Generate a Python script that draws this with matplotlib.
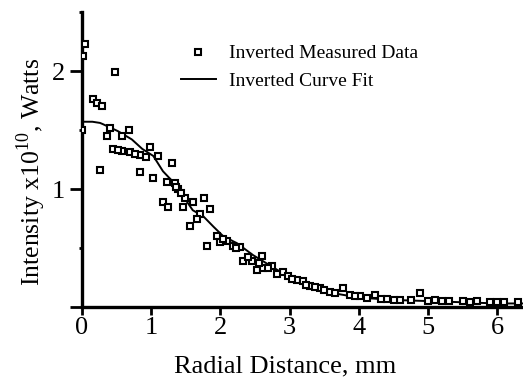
import matplotlib
matplotlib.use("Agg")
import matplotlib.pyplot as plt
import numpy as np
from matplotlib.ticker import MultipleLocator

plt.rcParams['font.family'] = ['Liberation Serif', 'DejaVu Serif']
plt.rcParams['mathtext.fontset'] = 'custom'
plt.rcParams['mathtext.rm'] = 'Liberation Serif'

# Inverted measured data (radial distance mm, intensity x1e10 W)
meas_x = [0.04, 0.01, 0.48, 0.16, 0.22, 0.29, 0.00, 0.40, 0.36, 0.68, 0.58,
          0.45, 0.58, 0.69, 0.84, 0.98, 1.10, 0.26, 0.84, 1.03, 1.30, 1.23,
          1.39, 1.49, 1.17, 1.24, 1.46, 1.60, 1.76, 1.85, 1.71, 1.66, 1.56,
          1.95, 1.81, 1.99, 2.10, 2.18, 2.28, 2.33, 2.46, 2.53, 2.60, 2.75,
          2.62, 2.90, 2.98, 3.11, 3.19, 3.29, 3.44, 3.58, 3.77, 3.87, 4.02,
          4.23, 4.40, 4.60, 4.88, 5.10, 5.30, 5.50, 5.70, 5.90, 6.10, 6.30,
          0.52, 0.76, 0.92, 1.34, 1.36, 1.43, 2.04, 2.22, 2.40, 2.56, 2.68,
          2.82, 3.04, 3.24, 3.36, 3.50, 3.66, 3.94, 4.12, 4.32, 4.50, 4.75,
          5.00, 5.20, 5.60, 6.00]
meas_y = [2.23, 2.13, 1.99, 1.76, 1.73, 1.70, 1.50, 1.52, 1.45, 1.50, 1.45,
          1.34, 1.32, 1.31, 1.29, 1.36, 1.28, 1.16, 1.14, 1.09, 1.22, 1.06,
          1.00, 0.92, 0.89, 0.85, 0.85, 0.89, 0.92, 0.83, 0.79, 0.75, 0.69,
          0.60, 0.52, 0.55, 0.56, 0.52, 0.51, 0.39, 0.39, 0.31, 0.43, 0.35,
          0.33, 0.30, 0.26, 0.23, 0.22, 0.18, 0.16, 0.13, 0.16, 0.10, 0.09,
          0.10, 0.07, 0.06, 0.12, 0.06, 0.05, 0.05, 0.05, 0.04, 0.04, 0.04,
          1.33, 1.30, 1.27, 1.05, 1.02, 0.97, 0.58, 0.50, 0.42, 0.37, 0.33,
          0.28, 0.24, 0.19, 0.17, 0.14, 0.12, 0.09, 0.08, 0.07, 0.06, 0.06,
          0.05, 0.05, 0.04, 0.04]

# Inverted curve fit
fit_x = [0.0, 0.15, 0.26, 0.30, 0.52, 0.72, 0.87, 1.03, 1.17, 1.30, 1.46,
         1.60, 1.75, 1.90, 2.04, 2.24, 2.47, 2.75, 3.00, 3.30, 3.60, 4.00,
         4.50, 5.00, 5.50, 6.00, 6.37]
fit_y = [1.57, 1.57, 1.56, 1.55, 1.49, 1.42, 1.34, 1.28, 1.15, 1.07, 0.94,
         0.82, 0.77, 0.68, 0.60, 0.54, 0.44, 0.34, 0.25, 0.17, 0.12, 0.08,
         0.06, 0.05, 0.04, 0.03, 0.03]

fig = plt.figure(figsize=(5.23, 3.77), dpi=100)
ax = fig.add_axes([82/523, 70/377, 1 - 82/523, 295/377])

ax.plot(fit_x, fit_y, color='black', lw=1.4, label='Inverted Curve Fit', zorder=2)
ax.plot(meas_x, meas_y, linestyle='none', marker='s', markersize=4.2,
        markerfacecolor='white', markeredgecolor='black', markeredgewidth=1.5,
        label='Inverted Measured Data', zorder=3)

ax.set_xlim(0, 6.37)
ax.set_ylim(0, 2.5)

for s in ['top', 'right']:
    ax.spines[s].set_visible(False)
for s in ['left', 'bottom']:
    ax.spines[s].set_linewidth(2.4)

ax.xaxis.set_major_locator(MultipleLocator(1))
ax.yaxis.set_minor_locator(MultipleLocator(0.5))
ax.set_yticks([0, 1, 2])
ax.set_yticklabels(['', '1', '2'])
ax.tick_params(axis='x', which='major', direction='out', length=5.5, width=2,
               labelsize=19, pad=2)
ax.tick_params(axis='y', which='major', direction='out', length=9, width=2,
               labelsize=19, pad=3)
ax.tick_params(axis='y', which='minor', direction='out', length=2, width=2)

ax.set_xlabel('Radial Distance, mm', fontsize=19)
ax.set_ylabel('Intensity x10$^{10}$, Watts', fontsize=18.5)
ax.xaxis.set_label_coords(0.46, -0.163)
ax.yaxis.set_label_coords(-0.078, 0.458)

h, l = ax.get_legend_handles_labels()
leg = ax.legend(h[::-1], l[::-1], loc='upper left', bbox_to_anchor=(171/523, 1 - 35/377),
                bbox_transform=fig.transFigure, frameon=False, fontsize=14,
                handlelength=1.8, handletextpad=0.7, labelspacing=0.5, borderpad=0)

fig.savefig('out.png', dpi=100)
